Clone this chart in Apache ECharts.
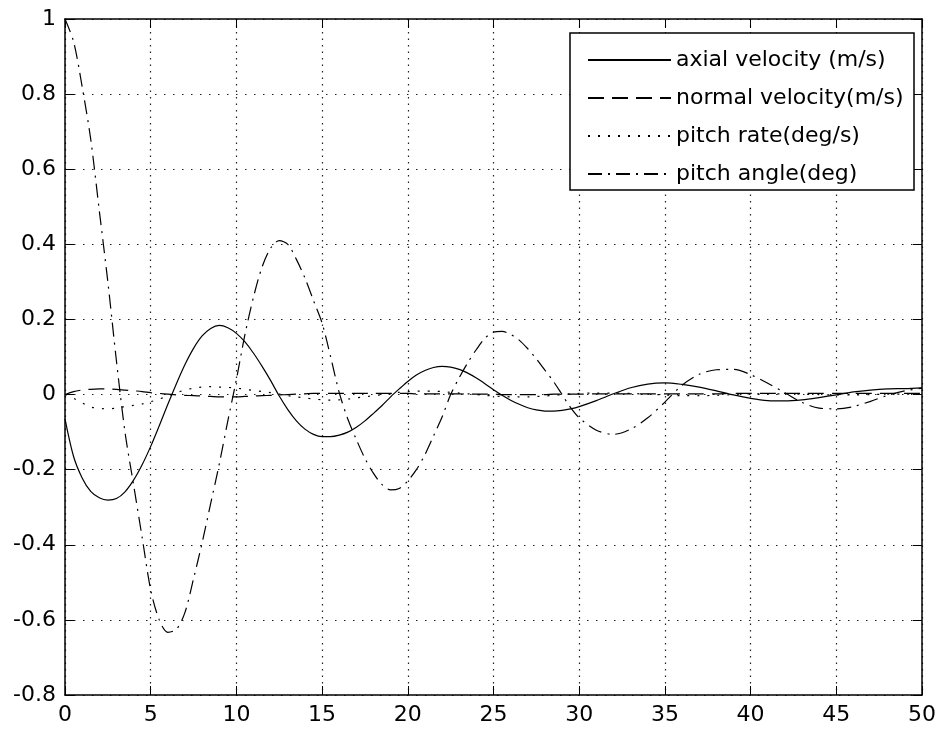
<!DOCTYPE html>
<html>
<head>
<meta charset="utf-8">
<script src="https://cdn.jsdelivr.net/npm/echarts@6/dist/echarts.min.js"></script>
<style>
html,body{margin:0;padding:0;background:#fff;}
#chart{width:939px;height:731px;}
</style>
</head>
<body>
<div id="chart"></div>
<script>
// time samples (s)
const time = [0,0.5,1,1.5,2,2.5,3,3.5,4,4.5,5,5.5,6,6.5,7,7.5,8,8.5,9,9.5,10,10.5,11,11.5,12,12.5,13,13.5,14,14.5,15,15.5,16,16.5,17,17.5,18,18.5,19,19.5,20,20.5,21,21.5,22,22.5,23,23.5,24,24.5,25,25.5,26,26.5,27,27.5,28,28.5,29,29.5,30,31,32,33,34,35,36,37,38,39,40,41,42,43,44,45,46,47,48,49,50];

const axialVelocity = [-0.065,-0.165,-0.222,-0.258,-0.275,-0.281,-0.277,-0.259,-0.228,-0.187,-0.138,-0.083,-0.026,0.029,0.080,0.123,0.156,0.176,0.184,0.178,0.163,0.140,0.110,0.075,0.037,-0.004,-0.040,-0.070,-0.092,-0.106,-0.112,-0.112,-0.108,-0.100,-0.087,-0.070,-0.050,-0.029,-0.006,0.015,0.035,0.052,0.064,0.072,0.075,0.073,0.067,0.057,0.044,0.029,0.013,-0.002,-0.015,-0.026,-0.035,-0.041,-0.044,-0.044,-0.042,-0.038,-0.032,-0.016,0.002,0.018,0.028,0.031,0.027,0.020,0.010,-0.001,-0.010,-0.016,-0.017,-0.014,-0.008,-0.001,0.007,0.012,0.015,0.016,0.018];

const normalVelocity = [0.000,0.008,0.012,0.014,0.015,0.015,0.014,0.012,0.010,0.008,0.005,0.003,0.001,-0.001,-0.002,-0.003,-0.004,-0.005,-0.006,-0.006,-0.006,-0.005,-0.004,-0.003,-0.002,-0.001,0.000,0.001,0.002,0.003,0.003,0.003,0.003,0.003,0.003,0.003,0.003,0.003,0.003,0.003,0.003,0.002,0.002,0.002,0.002,0.002,0.002,0.001,0.001,0.001,0.001,0.000,0.000,0.000,0.000,0.000,0.000,0.001,0.001,0.001,0.001,0.002,0.002,0.002,0.002,0.002,0.002,0.002,0.002,0.003,0.003,0.003,0.003,0.003,0.003,0.003,0.003,0.003,0.003,0.003,0.003];

const pitchRate = [0.000,-0.010,-0.022,-0.033,-0.037,-0.038,-0.036,-0.032,-0.029,-0.025,-0.019,-0.012,-0.004,0.005,0.012,0.017,0.020,0.021,0.020,0.019,0.017,0.014,0.011,0.008,0.005,0.001,-0.003,-0.006,-0.009,-0.012,-0.014,-0.015,-0.014,-0.012,-0.009,-0.006,-0.003,0.000,0.003,0.006,0.008,0.009,0.009,0.009,0.008,0.006,0.004,0.002,0.000,-0.002,-0.004,-0.005,-0.006,-0.006,-0.006,-0.005,-0.004,-0.002,0.000,0.002,0.003,0.004,0.004,0.003,0.001,-0.001,-0.003,-0.003,-0.002,0.000,0.002,0.002,0.002,0.001,0.000,-0.001,-0.001,0.000,0.001,0.001,0.001];

const pitchAngle = [1.000,0.940,0.820,0.680,0.490,0.300,0.090,-0.100,-0.240,-0.380,-0.520,-0.600,-0.633,-0.625,-0.580,-0.490,-0.395,-0.290,-0.185,-0.070,0.040,0.160,0.260,0.340,0.390,0.410,0.400,0.360,0.310,0.250,0.190,0.100,0.005,-0.065,-0.120,-0.170,-0.210,-0.240,-0.254,-0.250,-0.230,-0.200,-0.160,-0.110,-0.060,0.000,0.045,0.085,0.120,0.150,0.166,0.168,0.160,0.145,0.122,0.095,0.065,0.035,0.000,-0.035,-0.062,-0.095,-0.106,-0.092,-0.062,-0.020,0.025,0.054,0.066,0.067,0.053,0.030,0.005,-0.021,-0.036,-0.038,-0.032,-0.018,-0.002,0.010,0.017];

const seriesNames = ['axial velocity (m/s)','normal velocity(m/s)','pitch rate(deg/s)','pitch angle(deg)'];
const xTicks = {min:0, max:50, step:5};
const yTicks = {min:-0.8, max:1, step:0.2};

const pair = arr => time.map((t,i)=>[t, arr[i]]);
const FONT = 'DejaVu Sans';

const chart = echarts.init(document.getElementById('chart'), null, {renderer:'canvas'});

const axisLineStyle = {show:true, onZero:false, lineStyle:{color:'#000', width:1.5}};
const tickStyle = {show:true, inside:true, length:9, lineStyle:{color:'#000', width:1}};

function mk(name, data, type){
  return {
    name, type:'line', data:pair(data), symbol:'none', showSymbol:false,
    smooth:0.3, animation:false,
    lineStyle:{color:'#000', width:1.2, type:type},
    itemStyle:{color:'#000'}
  };
}

chart.setOption({
  animation:false,
  backgroundColor:'#fff',
  grid:{left:65, right:16, top:19, bottom:36, containLabel:false},
  xAxis:[
    {type:'value', min:xTicks.min, max:xTicks.max, interval:xTicks.step, position:'bottom',
     axisLine:axisLineStyle, axisTick:tickStyle,
     axisLabel:{color:'#000', fontSize:22, fontFamily:FONT, margin:9},
     splitLine:{show:true, lineStyle:{color:'#222', width:1.2, type:[1.5,5]}}},
    {type:'value', min:xTicks.min, max:xTicks.max, interval:xTicks.step, position:'top',
     axisLine:axisLineStyle, axisTick:tickStyle, axisLabel:{show:false}, splitLine:{show:false}}
  ],
  yAxis:[
    {type:'value', min:yTicks.min, max:yTicks.max, interval:yTicks.step, position:'left',
     axisLine:axisLineStyle, axisTick:tickStyle,
     axisLabel:{color:'#000', fontSize:22, fontFamily:FONT, margin:9,
       formatter:v=>String(parseFloat(v.toFixed(1)))},
     splitLine:{show:true, lineStyle:{color:'#222', width:1.2, type:[1.5,7.5]}}},
    {type:'value', min:yTicks.min, max:yTicks.max, interval:yTicks.step, position:'right',
     axisLine:axisLineStyle, axisTick:tickStyle, axisLabel:{show:false}, splitLine:{show:false}}
  ],
  graphic:[{
    type:'rect', z:50, silent:true,
    shape:{x:570, y:33, width:344, height:157},
    style:{fill:'#fff', stroke:'#000', lineWidth:1.5}
  }],
  legend:{
    z:100, orient:'vertical', left:582, top:43,
    itemWidth:83, itemHeight:14, itemGap:14,
    data:seriesNames,
    itemStyle:{opacity:0},
    textStyle:{color:'#000', fontSize:22, fontFamily:FONT, lineHeight:24},
    inactiveColor:'#000'
  },
  series:[
    mk(seriesNames[0], axialVelocity, 'solid'),
    mk(seriesNames[1], normalVelocity, [16,8]),
    mk(seriesNames[2], pitchRate, [2,8]),
    mk(seriesNames[3], pitchAngle, [14,6,2,6])
  ]
});
</script>
</body>
</html>
